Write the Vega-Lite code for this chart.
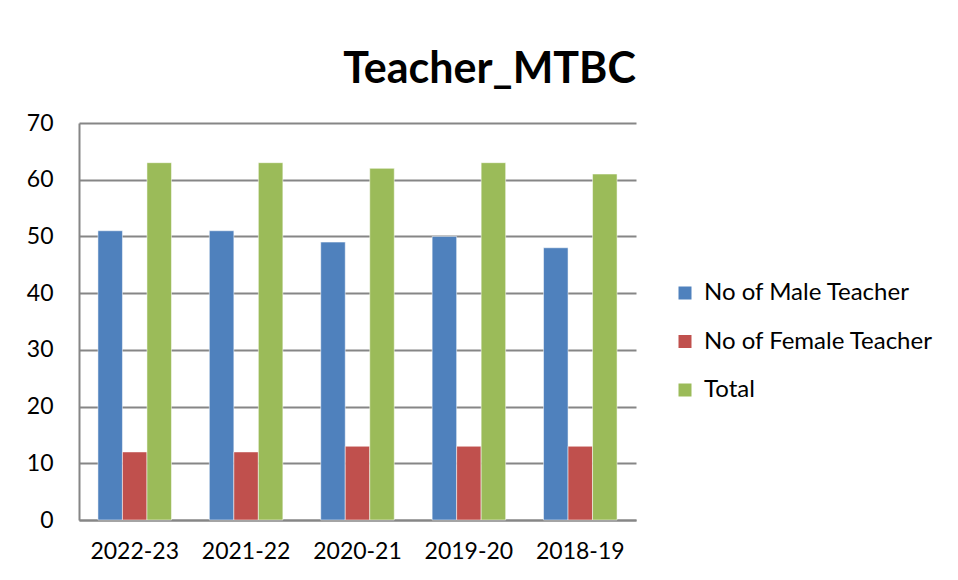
{
  "$schema": "https://vega.github.io/schema/vega-lite/v6.json",
  "width": 557,
  "height": 397,
  "autosize": "none",
  "padding": {"left": 79, "top": 123, "right": 322, "bottom": 60},
  "background": "white",
  "title": {
    "text": "Teacher_MTBC",
    "font": "Lato",
    "fontWeight": "bold",
    "fontSize": 43,
    "color": "black",
    "anchor": "middle",
    "baseline": "alphabetic",
    "offset": 37,
    "dx": 132,
    "dy": 51
  },
  "data": {
    "values": [
      {"year": "2022-23", "series": "No of Male Teacher", "value": 51},
      {"year": "2022-23", "series": "No of Female Teacher", "value": 12},
      {"year": "2022-23", "series": "Total", "value": 63},
      {"year": "2021-22", "series": "No of Male Teacher", "value": 51},
      {"year": "2021-22", "series": "No of Female Teacher", "value": 12},
      {"year": "2021-22", "series": "Total", "value": 63},
      {"year": "2020-21", "series": "No of Male Teacher", "value": 49},
      {"year": "2020-21", "series": "No of Female Teacher", "value": 13},
      {"year": "2020-21", "series": "Total", "value": 62},
      {"year": "2019-20", "series": "No of Male Teacher", "value": 50},
      {"year": "2019-20", "series": "No of Female Teacher", "value": 13},
      {"year": "2019-20", "series": "Total", "value": 63},
      {"year": "2018-19", "series": "No of Male Teacher", "value": 48},
      {"year": "2018-19", "series": "No of Female Teacher", "value": 13},
      {"year": "2018-19", "series": "Total", "value": 61}
    ]
  },
  "mark": {"type": "bar", "stroke": "white", "strokeOpacity": 0.5, "strokeWidth": 1},
  "encoding": {
    "x": {
      "field": "year",
      "type": "nominal",
      "sort": ["2022-23", "2021-22", "2020-21", "2019-20", "2018-19"],
      "scale": {"paddingInner": 0.34, "paddingOuter": 0.17},
      "axis": {
        "title": null,
        "labelAngle": 0,
        "labelFont": "Lato",
        "labelFontSize": 23,
        "labelColor": "black",
        "labelPadding": 20,
        "ticks": false,
        "domainColor": "#868686",
        "domainWidth": 2,
        "grid": false
      }
    },
    "xOffset": {
      "field": "series",
      "type": "nominal",
      "sort": ["No of Male Teacher", "No of Female Teacher", "Total"]
    },
    "y": {
      "field": "value",
      "type": "quantitative",
      "scale": {"domain": [0, 70], "nice": false},
      "axis": {
        "title": null,
        "values": [0, 10, 20, 30, 40, 50, 60, 70],
        "labelFont": "Lato",
        "labelFontSize": 23,
        "labelColor": "black",
        "labelPadding": 26,
        "ticks": false,
        "domainColor": "#868686",
        "domainWidth": 2,
        "gridColor": "#868686",
        "gridWidth": 2
      }
    },
    "color": {
      "field": "series",
      "type": "nominal",
      "sort": ["No of Male Teacher", "No of Female Teacher", "Total"],
      "scale": {
        "domain": ["No of Male Teacher", "No of Female Teacher", "Total"],
        "range": ["#4F81BD", "#C0504D", "#9BBB59"]
      },
      "legend": {
        "title": null,
        "orient": "none",
        "legendX": 594,
        "legendY": 158,
        "symbolType": "square",
        "symbolSize": 169,
        "symbolStrokeWidth": 0,
        "labelFont": "Lato",
        "labelFontSize": 24,
        "labelLimit": 400,
        "labelColor": "black",
        "labelOffset": 7,
        "rowPadding": 24.5
      }
    }
  },
  "config": {"view": {"stroke": null}}
}
